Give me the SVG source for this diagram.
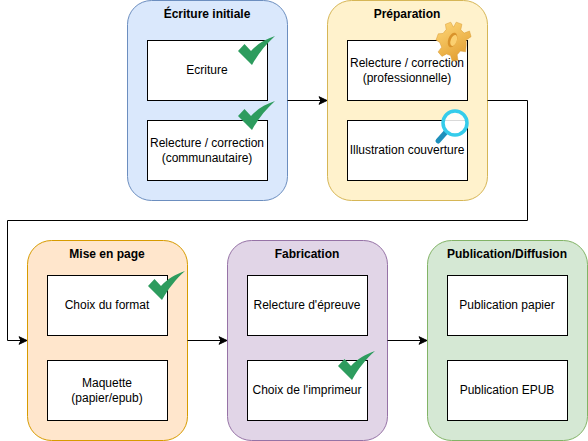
<svg xmlns="http://www.w3.org/2000/svg" width="588" height="441" viewBox="0 0 588 441">
<style>
text{font-family:"Liberation Sans",Arial,sans-serif;font-size:12px;fill:#000;text-anchor:middle}
.t{font-weight:bold}
.b{fill:#fff;stroke:#000;stroke-width:1}
.l{fill:none;stroke:#000;stroke-width:1}
.g{stroke-width:1}
</style>
<defs>
<marker id="a" markerUnits="userSpaceOnUse" markerWidth="10" markerHeight="10" refX="9" refY="5" orient="auto" overflow="visible"><path d="M1 1.200L9 5L1 8.800L3 5Z" fill="#000" stroke="#000" stroke-width="1"/></marker>
<path id="c" d="M0 15L6.500 8L13 15C19 8 28 3 37 0C28 8 20 18 14 29Z" fill="#2D9C5E"/>
<linearGradient id="gear" x1="0" y1="0" x2="1" y2="1"><stop offset="0" stop-color="#FFD97A"/><stop offset="1" stop-color="#E09A2B"/></linearGradient>
</defs>
<g id="n1"><rect class="g" x="127.500" y="0.500" width="160" height="200" rx="24" fill="#dae8fc" stroke="#6c8ebf"/><text class="t" x="207" y="18">Écriture initiale</text></g>
<g id="n2"><rect class="g" x="327.500" y="0.500" width="160" height="200" rx="24" fill="#fff2cc" stroke="#d6b656"/><text class="t" x="407" y="18">Préparation</text></g>
<g id="n3"><rect class="g" x="27.500" y="240.500" width="160" height="200" rx="24" fill="#ffe6cc" stroke="#d79b00"/><text class="t" x="107" y="258">Mise en page</text></g>
<g id="n4"><rect class="g" x="227.500" y="240.500" width="160" height="200" rx="24" fill="#e1d5e7" stroke="#9673a6"/><text class="t" x="307" y="258">Fabrication</text></g>
<g id="n5"><rect class="g" x="427.500" y="240.500" width="160" height="200" rx="24" fill="#d5e8d4" stroke="#82b366"/><text class="t" x="507" y="258">Publication/Diffusion</text></g>
<g id="connectors">
<path class="l" d="M287.500 100.500H327" marker-end="url(#a)"/>
<path class="l" d="M487.500 100.500H527.500V220.500H7.500V340.500H27" marker-end="url(#a)"/>
<path class="l" d="M187.500 340.500H227" marker-end="url(#a)"/>
<path class="l" d="M387.500 340.500H427" marker-end="url(#a)"/>
</g>
<g id="b1"><rect class="b" x="147.500" y="40.500" width="120" height="60"/><text x="207" y="74">Ecriture</text></g>
<g id="b2"><rect class="b" x="147.500" y="120.500" width="120" height="60"/><text x="207" y="147">Relecture / correction</text><text x="207" y="162">(communautaire)</text></g>
<g id="b3"><rect class="b" x="347.500" y="40.500" width="120" height="60"/><text x="407" y="67">Relecture / correction</text><text x="407" y="82">(professionnelle)</text></g>
<g id="b4"><rect class="b" x="347.500" y="120.500" width="120" height="60"/><text x="407" y="154">Illustration couverture</text></g>
<g id="b5"><rect class="b" x="47.500" y="275.500" width="120" height="60"/><text x="107" y="309">Choix du format</text></g>
<g id="b6"><rect class="b" x="47.500" y="360.500" width="120" height="60"/><text x="107" y="387">Maquette</text><text x="107" y="402">(papier/epub)</text></g>
<g id="b7"><rect class="b" x="247.500" y="275.500" width="120" height="60"/><text x="307" y="309">Relecture d'épreuve</text></g>
<g id="b8"><rect class="b" x="247.500" y="360.500" width="120" height="60"/><text x="307" y="394">Choix de l'imprimeur</text></g>
<g id="b9"><rect class="b" x="447.500" y="275.500" width="120" height="60"/><text x="507" y="309">Publication papier</text></g>
<g id="b10"><rect class="b" x="447.500" y="360.500" width="120" height="60"/><text x="507" y="394">Publication EPUB</text></g>
<g id="icons">
<use href="#c" x="238" y="36"/>
<use href="#c" x="238" y="101"/>
<use href="#c" x="148" y="271"/>
<use href="#c" x="338" y="351"/>
<g transform="translate(452.500 40) rotate(20) scale(.86 .95)">
<path d="M-3 -19L4 -19L5 -13L10 -11L15 -15L19 -10L15 -5L17 0L19 7L13 8L11 13L14 18L8 21L4 16L-1 16L-5 20L-11 17L-9 11L-13 7L-18 6L-18 -1L-13 -3L-11 -8L-14 -13L-9 -17L-4 -13Z" fill="url(#gear)" stroke="#D99A34" stroke-width=".5"/>
<ellipse cx="0" cy="0" rx="5" ry="8" fill="#D9932B"/><ellipse cx="1.500" cy="0" rx="3.500" ry="6" fill="#FBD070"/>
</g>
<path d="M446 132L438 141" stroke="#1E8FBB" stroke-width="5" stroke-linecap="round" fill="none"/>
<circle cx="455" cy="123" r="12" fill="#fff" fill-opacity=".85" stroke="#35CCEB" stroke-width="3.500"/>
</g>
</svg>
